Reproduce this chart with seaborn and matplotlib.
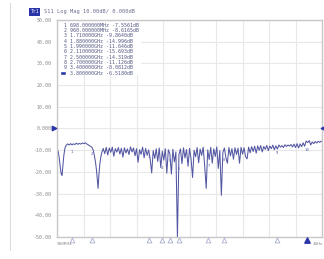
import numpy as np
import pandas as pd
import matplotlib
matplotlib.use("Agg")
import matplotlib.pyplot as plt
import matplotlib.transforms as mtransforms
from matplotlib.lines import Line2D
import seaborn as sns

# S11 sweep (GHz, dB)
freq_ghz = [0.500, 0.515, 0.530, 0.545, 0.555, 0.566, 0.578, 0.590, 0.605, 0.620,
            0.640, 0.660, 0.680, 0.698, 0.715, 0.735, 0.755, 0.775, 0.795, 0.815,
            0.835, 0.855, 0.875, 0.895, 0.915, 0.935, 0.960, 0.980, 0.995, 1.010,
            1.022, 1.032, 1.042, 1.052, 1.065, 1.080, 1.095,
            1.11, 1.13, 1.15, 1.17, 1.19, 1.21, 1.23, 1.25, 1.27, 1.29,
            1.31, 1.33, 1.35, 1.37, 1.39, 1.41, 1.43, 1.45, 1.47, 1.49,
            1.51, 1.53, 1.55, 1.57, 1.59, 1.61, 1.63, 1.65, 1.67, 1.69,
            1.71, 1.73, 1.75, 1.77, 1.79, 1.81, 1.83, 1.85, 1.87, 1.89,
            1.91, 1.93, 1.95, 1.97, 1.99, 2.01, 2.03, 2.05, 2.07, 2.09,
            2.11, 2.13, 2.15, 2.17, 2.19, 2.21, 2.23, 2.25, 2.27, 2.29,
            2.31, 2.33, 2.35, 2.37, 2.39, 2.41, 2.43, 2.45, 2.47, 2.49,
            2.51, 2.53, 2.55, 2.57, 2.59, 2.61, 2.63, 2.65, 2.67, 2.69,
            2.71, 2.73, 2.75, 2.77, 2.79, 2.81, 2.83, 2.85, 2.87, 2.89,
            2.91, 2.93, 2.95, 2.97, 2.99, 3.01, 3.03, 3.05, 3.07, 3.09,
            3.11, 3.13, 3.15, 3.17, 3.19, 3.21, 3.23, 3.25, 3.27, 3.29,
            3.31, 3.33, 3.35, 3.37, 3.39, 3.41, 3.43, 3.45, 3.47, 3.49,
            3.51, 3.53, 3.55, 3.57, 3.59, 3.61, 3.63, 3.65, 3.67, 3.69,
            3.71, 3.73, 3.75, 3.77, 3.79, 3.81, 3.83, 3.85, 3.87, 3.89,
            3.91, 3.93, 3.95, 3.97, 3.99, 4.00]
s11_db = [-9.6, -10.5, -13.8, -18.5, -20.8, -21.6, -17.0, -12.4, -9.0, -7.8,
          -7.1, -7.6, -7.0, -7.56, -7.1, -7.4, -6.8, -7.3, -6.9, -7.2,
          -6.7, -7.0, -6.6, -7.2, -7.6, -8.1, -8.6, -10.2, -12.8, -16.0,
          -19.5, -23.5, -27.6, -22.0, -16.5, -12.8, -10.6,
          -9.2, -11.6, -8.7, -12.2, -9.0, -11.0, -8.6, -12.8, -9.3, -10.9,
          -8.8, -11.8, -9.1, -13.2, -8.9, -11.3, -9.4, -12.0, -8.5, -10.8,
          -9.0, -12.6, -9.3, -15.6, -9.8, -11.9, -8.6, -13.5, -9.2, -12.4,
          -9.86, -14.0, -20.5, -10.2, -13.8, -9.4, -15.2, -9.0, -18.0, -10.5,
          -14.6, -9.3, -20.6, -9.8, -11.6, -21.0, -9.6, -15.4, -10.8, -50.5,
          -12.0, -9.4, -16.2, -8.9, -13.6, -9.7, -17.4, -9.2, -14.1, -22.6,
          -10.1, -13.0, -8.8, -15.8, -9.5, -12.4, -8.6, -17.2, -27.6, -9.9,
          -14.3, -8.7, -16.0, -9.4, -12.9, -8.5, -18.4, -10.2, -30.8, -11.1,
          -9.0, -13.4, -16.0, -8.8, -12.6, -9.3, -14.2, -8.9, -12.0, -9.1,
          -16.0, -8.7, -11.8, -8.9, -13.0, -14.0, -8.6, -11.2, -8.4, -10.6,
          -8.2, -11.4, -8.0, -10.1, -7.9, -10.8, -8.3, -9.6, -7.8, -10.2,
          -8.1, -9.3, -7.7, -9.8, -8.0, -9.5, -7.6, -8.6, -7.9, -8.8,
          -7.5, -8.3, -7.6, -8.1, -7.4, -8.5, -7.2, -8.8, -7.0, -9.0,
          -7.1, -8.4, -6.6, -8.2, -5.8, -6.5, -5.6, -7.6, -6.2, -7.0,
          -6.0, -6.7, -5.9, -6.4, -5.8, -6.0]

marker_ids = ["1", "2", "3", "4", "5", "6", "7", "8", "9", "10"]
marker_freq = [0.698, 0.960, 1.710, 1.880, 1.990, 2.110, 2.500, 2.700, 3.400, 3.800]
marker_db = [-7.5561, -8.6165, -9.8640, -14.996, -11.646, -15.693, -14.319, -11.126, -8.0812, -6.5180]
marker_freq_txt = ["698.000000MHz", "960.000000MHz", "1.710000GHz", "1.880000GHz", "1.990000GHz",
                   "2.110000GHz", "2.500000GHz", "2.700000GHz", "3.400000GHz", "3.800000GHz"]

y_ticks = [50, 40, 30, 20, 10, 0, -10, -20, -30, -40, -50]
y_tick_labels = ["50.00", "40.00", "30.00", "20.00", "10.00", "0.000",
                 "-10.00", "-20.00", "-30.00", "-40.00", "-50.00"]

df = pd.DataFrame({"freq": freq_ghz, "s11": s11_db})

sns.set_style("white")
plt.rcParams["font.family"] = ["DejaVu Sans Mono", "DejaVu Sans"]

fig = plt.figure(figsize=(3.24, 2.59), dpi=100)
ax = fig.add_axes([0.176, 0.085, 0.818, 0.838])

trace = "#5357a2"
sns.lineplot(data=df, x="freq", y="s11", ax=ax, color=trace, linewidth=0.75,
             sort=False, estimator=None)

ax.set_xlim(0.5, 4.0)
ax.set_ylim(-50, 50)
ax.set_xticks([0.5 + 0.35 * k for k in range(11)])
ax.set_xticklabels([])
ax.set_yticks(y_ticks)
ax.set_yticklabels(y_tick_labels)
ax.tick_params(axis="y", length=0, pad=4, labelsize=3.6, labelcolor="#8a8a8a")
ax.tick_params(axis="x", length=0)
ax.grid(True, color="#e8e8e8", linewidth=0.8)
ax.set_xlabel("")
ax.set_ylabel("")
for sp in ax.spines.values():
    sp.set_color("#c8c8c8")
    sp.set_linewidth(1.0)

# marker numbers on the trace
for mid, mf, md in zip(marker_ids, marker_freq, marker_db):
    ax.text(mf, md - 3.2, mid, fontsize=2.8, color=trace, ha="center", va="center")

# marker triangles on the bottom edge
trans = mtransforms.blended_transform_factory(ax.transData, ax.transAxes)
ax.scatter(marker_freq[:-1], [-0.014] * 9, marker="^", s=12, facecolor="white",
           edgecolor="#a9add2", linewidth=0.6, transform=trans, clip_on=False, zorder=5)
ax.scatter(marker_freq[-1:], [-0.016], marker="^", s=15, color="#2a35a8",
           transform=trans, clip_on=False, zorder=5)

# reference level arrows
ax.scatter([-0.01], [0], marker=">", s=10, color="#2a35a8",
           transform=mtransforms.blended_transform_factory(ax.transAxes, ax.transData),
           clip_on=False, zorder=5)
ax.scatter([1.004], [0], marker="<", s=10, color="#2a35a8",
           transform=mtransforms.blended_transform_factory(ax.transAxes, ax.transData),
           clip_on=False, zorder=5)

# marker table
line_h = 0.0244
ax.add_patch(plt.Rectangle((0.006, 0.745), 0.31, 0.245, transform=ax.transAxes,
                           facecolor="white", edgecolor="none", zorder=3))
for i, (mid, ft, md) in enumerate(zip(marker_ids, marker_freq_txt, marker_db)):
    txt = f"{mid:>2} {ft} {md:.3f}dB" if abs(md) >= 10 else f"{mid:>2} {ft} {md:.4f}dB"
    ax.text(0.016, 0.975 - i * line_h, txt, transform=ax.transAxes, fontsize=3.6,
            color="#555a85", va="center", ha="left", zorder=4)
ax.add_patch(plt.Rectangle((0.012, 0.975 - 9 * line_h - 0.011), 0.02, 0.022,
                           transform=ax.transAxes, facecolor="#2a35a8", zorder=4))

# header
fig.text(0.094, 0.954, "Tr1", fontsize=3.4, color="white", va="center", ha="left",
         bbox=dict(boxstyle="square,pad=0.25", facecolor="#2a35a8", edgecolor="none"))
fig.text(0.136, 0.954, "S11 Log Mag 10.00dB/ 0.000dB", fontsize=3.9, color="#6a6e90",
         va="center", ha="left")

# sweep limits
fig.text(0.176, 0.058, "500MHz", fontsize=3.2, color="#8a8a8a", va="center", ha="left")
fig.text(0.999, 0.058, "4GHz", fontsize=3.2, color="#8a8a8a", va="center", ha="right")

# outer screen border
fig.add_artist(Line2D([0.031, 0.031], [0.035, 0.99], transform=fig.transFigure,
                      color="#dcdcdc", linewidth=0.8))

fig.savefig("out.png", dpi=100)
